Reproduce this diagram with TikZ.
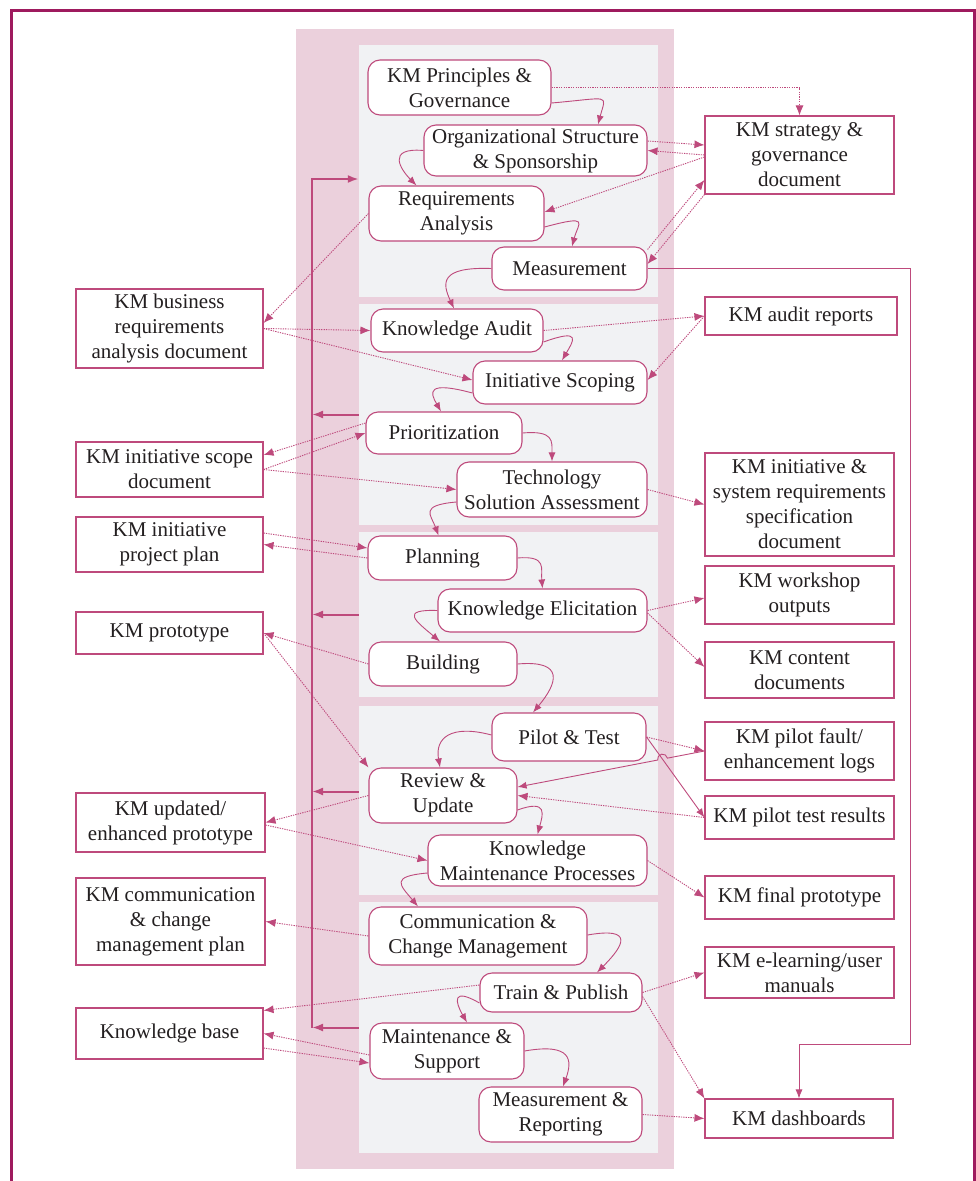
\documentclass[tikz,border=0pt]{standalone}
\usepackage{fontspec}
\setmainfont{Liberation Serif}
\usetikzlibrary{arrows.meta,calc}
\definecolor{FrameRed}{HTML}{9E1A5E}
\definecolor{ColumnPink}{HTML}{EBD0DC}
\definecolor{PanelGray}{HTML}{F1F2F4}
\definecolor{LinePink}{HTML}{BE4A7C}
\definecolor{TextDark}{HTML}{231F20}

\begin{document}
\begin{tikzpicture}[x=1pt,y=-1pt,
  proc/.style={draw=LinePink,line width=1.1pt,rounded corners=12pt,fill=white,align=center,text=TextDark,font=\fontsize{21}{25}\selectfont,inner sep=2pt},
  doc/.style={draw=LinePink,line width=1.1pt,fill=white,align=center,text=TextDark,font=\fontsize{21}{25}\selectfont,minimum width=187pt,inner sep=2pt},
  panel/.style={fill=PanelGray,minimum width=299pt,inner sep=0pt},
  flow/.style={-{Latex[length=9pt,width=7pt]},LinePink,line width=0.9pt},
  docline/.style={-{Latex[length=10pt,width=8pt]},LinePink,line width=0.9pt,dash pattern=on 1.3pt off 1.1pt},
  feedback/.style={-{Latex[length=11pt,width=8pt]},LinePink,line width=2pt}
]
\useasboundingbox (0,0) rectangle (976,1181);
\draw[FrameRed,line width=3pt] (11,10) rectangle (974,1200);

% phase column and panels
\node[fill=ColumnPink,minimum width=378pt,minimum height=1140pt,inner sep=0pt] (column) at (485,599) {};
\node[panel,minimum height=252pt] (panel1) at (508.5,171) {};
\node[panel,minimum height=221pt] (panel2) at (508.5,414.5) {};
\node[panel,minimum height=165pt] (panel3) at (508.5,614.5) {};
\node[panel,minimum height=189pt] (panel4) at (508.5,800.5) {};
\node[panel,minimum height=251pt] (panel5) at (508.5,1027.5) {};

% process steps
\node[proc,minimum width=183pt,minimum height=55pt] (p1) at (459.5,87.5) {KM Principles \&\\Governance};
\node[proc,minimum width=223pt,minimum height=51pt] (p2) at (535.5,150.5) {Organizational Structure\\\& Sponsorship};
\node[proc,minimum width=175pt,minimum height=55pt] (p3) at (456.5,213.5) {Requirements\\Analysis};
\node[proc,minimum width=155pt,minimum height=43pt] (p4) at (569.5,268.5) {Measurement};
\node[proc,minimum width=172pt,minimum height=43pt] (p5) at (457,330.5) {Knowledge Audit};
\node[proc,minimum width=174pt,minimum height=43pt] (p6) at (560,382.5) {Initiative Scoping};
\node[proc,minimum width=156pt,minimum height=42pt] (p7) at (444,433) {Prioritization};
\node[proc,minimum width=190pt,minimum height=55pt] (p8) at (552,489.5) {Technology\\Solution Assessment};
\node[proc,minimum width=149pt,minimum height=44pt] (p9) at (442.5,558) {Planning};
\node[proc,minimum width=209pt,minimum height=43pt] (p10) at (542.5,610.5) {Knowledge Elicitation};
\node[proc,minimum width=148pt,minimum height=44pt] (p11) at (443,664) {Building};
\node[proc,minimum width=154pt,minimum height=48pt] (p12) at (569,737) {Pilot \& Test};
\node[proc,minimum width=148pt,minimum height=55pt] (p13) at (443,795.5) {Review \&\\Update};
\node[proc,minimum width=219pt,minimum height=51pt] (p14) at (537.5,860.5) {Knowledge\\Maintenance Processes};
\node[proc,minimum width=218pt,minimum height=58pt] (p15) at (478,936) {Communication \&\\Change Management};
\node[proc,minimum width=162pt,minimum height=39pt] (p16) at (561,992.5) {Train \& Publish};
\node[proc,minimum width=154pt,minimum height=56pt] (p17) at (447,1051) {Maintenance \&\\Support};
\node[proc,minimum width=163pt,minimum height=55pt] (p18) at (560.5,1114.5) {Measurement \&\\Reporting};

% documents, left
\node[doc,minimum height=79pt] (d1) at (169.5,328.5) {KM business\\requirements\\analysis document};
\node[doc,minimum height=55pt] (d2) at (169.5,469.5) {KM initiative scope\\document};
\node[doc,minimum height=55pt] (d3) at (169.5,544.5) {KM initiative\\project plan};
\node[doc,minimum height=42pt] (d4) at (169.5,633) {KM prototype};
\node[doc,minimum width=189pt,minimum height=59pt] (d5) at (170.5,822.5) {KM updated/\\enhanced prototype};
\node[doc,minimum width=189pt,minimum height=87pt] (d6) at (170.5,921.5) {KM communication\\\& change\\management plan};
\node[doc,minimum height=51pt] (d7) at (169.5,1033.5) {Knowledge base};

% documents, right
\node[doc,minimum width=189pt,minimum height=78pt] (r1) at (799.5,155) {KM strategy \&\\governance\\document};
\node[doc,minimum width=192pt,minimum height=38pt] (r2) at (801,316) {KM audit reports};
\node[doc,minimum width=189pt,minimum height=103pt] (r3) at (799.5,504.5) {KM initiative \&\\system requirements\\specification\\document};
\node[doc,minimum width=189pt,minimum height=58pt] (r4) at (799.5,595) {KM workshop\\outputs};
\node[doc,minimum width=189pt,minimum height=56pt] (r5) at (799.5,670) {KM content\\documents};
\node[doc,minimum width=189pt,minimum height=58pt] (r6) at (799.5,751) {KM pilot fault/\\enhancement logs};
\node[doc,minimum width=189pt,minimum height=43pt] (r7) at (799.5,817.5) {KM pilot test results};
\node[doc,minimum width=189pt,minimum height=43pt] (r8) at (799.5,897.5) {KM final prototype};
\node[doc,minimum width=189pt,minimum height=51pt] (r9) at (799.5,972.5) {KM e-learning/user\\manuals};
\node[doc,minimum width=188pt,minimum height=39pt] (r10) at (799,1118.5) {KM dashboards};

% feedback rail
\coordinate (railtop) at (312,179);
\coordinate (railbot) at (312,1027.5);
\draw[feedback] (panel5.west) -- (railbot);
\draw[feedback] (railbot) -- (railtop) -- ([yshift=-8pt]panel1.west);
\draw[feedback] (panel2.west) -- (panel2.west -| railtop);
\draw[feedback] (panel3.west) -- (panel3.west -| railtop);
\draw[feedback] ([yshift=9pt]panel4.west) -- ([yshift=9pt]panel4.west -| railtop);

% step sequence
\draw[flow] ([yshift=-15.5pt]p1.east) to[out=5,in=75,out distance=60pt,in distance=32pt] ([xshift=62.5pt]p2.north);
\draw[flow] (p2.west) to[out=175,in=135,out distance=38pt,in distance=22pt] ([xshift=-40pt]p3.north);
\draw[flow] ([yshift=-13.5pt]p3.east) to[out=15,in=75,out distance=48pt,in distance=25pt] ([xshift=2.5pt]p4.north);
\draw[flow] (p4.west) to[out=178,in=115,out distance=52pt,in distance=28pt] ([xshift=-3pt]p5.north);
\draw[flow] ([yshift=-11.5pt]p5.east) to[out=20,in=60,out distance=42pt,in distance=22pt] ([xshift=2pt]p6.north);
\draw[flow] ([yshift=-10.5pt]p6.west) to[out=165,in=120,out distance=48pt,in distance=22pt] ([xshift=-3pt]p7.north);
\draw[flow] (p7.east) to[out=5,in=90,out distance=32pt,in distance=20pt] (p8.north);
\draw[flow] ([yshift=-12.5pt]p8.west) to[out=185,in=110,out distance=38pt,in distance=22pt] ([xshift=-4pt]p9.north);
\draw[flow] (p9.east) to[out=5,in=95,out distance=30pt,in distance=20pt] (p10.north);
\draw[flow] (p10.west) to[out=178,in=140,out distance=38pt,in distance=32pt] ([xshift=-3pt]p11.north);
\draw[flow] (p11.east) to[out=5,in=50,out distance=48pt,in distance=38pt] ([xshift=-36pt]p12.north);
\draw[flow] ([yshift=2pt]p12.west) to[out=165,in=100,out distance=42pt,in distance=30pt] ([xshift=-3pt]p13.north);
\draw[flow] ([yshift=-14.5pt]p13.east) to[out=20,in=75,out distance=33pt,in distance=20pt] (p14.north);
\draw[flow] ([yshift=-12.5pt]p14.west) to[out=185,in=130,out distance=38pt,in distance=28pt] ([xshift=-60pt]p15.north);
\draw[flow] ([yshift=1pt]p15.east) to[out=10,in=45,out distance=48pt,in distance=38pt] ([xshift=36pt]p16.north);
\draw[flow] ([yshift=-10.5pt]p16.west) to[out=150,in=120,out distance=32pt,in distance=24pt] ([xshift=20pt]p17.north);
\draw[flow] (p17.east) to[out=10,in=70,out distance=48pt,in distance=28pt] ([xshift=2.5pt]p18.north);

% document links
\draw[docline] (p1.east) -| (r1.north);
\draw[docline] ([yshift=9.5pt]p2.east) -- ([yshift=10pt]r1.west);
\draw[docline] (r1.west) -- (p2.east);
\draw[docline] ([yshift=-2pt]r1.west) -- ([yshift=1.5pt]p3.east);
\draw[docline] ([yshift=-3pt]p4.north east) -- ([yshift=-25pt]r1.west);
\draw[docline] (r1.south west) -- ([yshift=4.5pt]p4.east);
\draw[docline] (p3.west) -- ([yshift=5.5pt]d1.east);
\draw[docline] (d1.east) -- (p5.west);
\draw[docline] (d1.east) -- ([yshift=2.5pt]p6.west);
\draw[docline] (p5.east) -- (r2.west);
\draw[docline] (r2.west) -- ([yshift=2.5pt]p6.east);
\draw[docline] ([yshift=10pt]p7.west) -- ([yshift=14.5pt]d2.east);
\draw[docline] (d2.east) -- (p7.west);
\draw[docline] (d2.east) -- (p8.west);
\draw[docline] (p8.east) -- (r3.west);
\draw[docline] ([yshift=11.5pt]d3.east) -- ([yshift=10pt]p9.west);
\draw[docline] (p9.west) -- (d3.east);
\draw[docline] (p10.east) -- ([yshift=-3pt]r4.west);
\draw[docline] ([yshift=-2.5pt]p10.east) -- ([yshift=3pt]r5.west);
\draw[docline] (p11.west) -- (d4.east);
\draw[docline] (d4.east) -- (p13.north west);
\draw[docline] (p12.east) -- (r6.west);
\draw[flow] (p12.east) -- (r7.west);
\coordinate (hop) at ($(r6.west)!0.198!([yshift=8.5pt]p13.east)$);
\draw[flow] (r6.west) -- (hop) arc[start angle=11,end angle=191,radius=5pt] -- ([yshift=8.5pt]p13.east);
\draw[docline] (r7.west) -- (p13.east);
\draw[docline] (p13.west) -- (d5.east);
\draw[docline] ([yshift=-2.5pt]d5.east) -- (p14.west);
\draw[docline] (p14.east) -- (r8.west);
\draw[docline] (p15.west) -- (d6.east);
\draw[docline] ([yshift=7.5pt]p16.west) -- ([yshift=-3pt]d7.north east);
\draw[docline] (p16.east) -- (r9.west);
\draw[docline] ([yshift=-4pt]p16.east) -- (r10.north west);
\draw[docline] ([yshift=-4pt]p17.west) -- (d7.east);
\draw[docline] ([yshift=-14.5pt]d7.east) -- ([yshift=-12pt]p17.west);
\draw[docline] (p18.east) -- (r10.west);
\coordinate (bypass) at (910,1044);
\draw[flow,line width=0.8pt] (p4.east) -| (bypass) -| (r10.north);
\end{tikzpicture}
\end{document}
